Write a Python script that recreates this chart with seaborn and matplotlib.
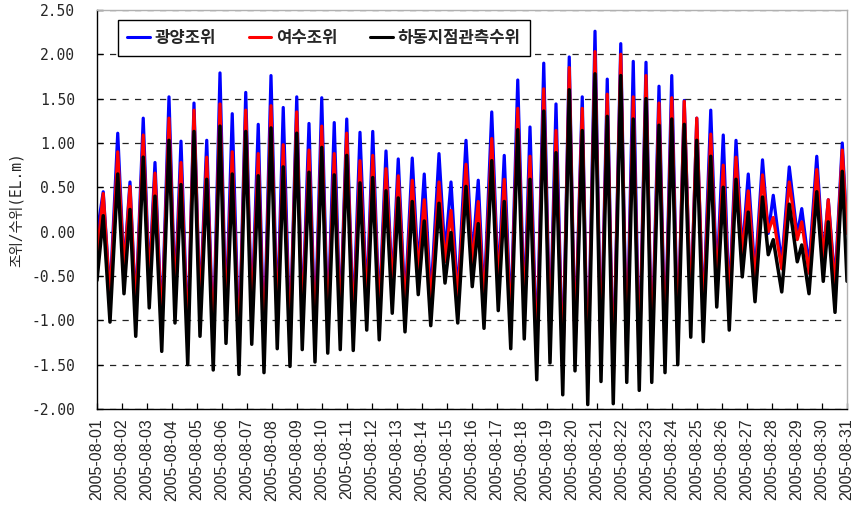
import matplotlib
matplotlib.use("Agg")
import matplotlib.pyplot as plt
from matplotlib.lines import Line2D
import numpy as np
import pandas as pd
import seaborn as sns

# ---- data: times (days from 2005-08-01) of the tidal extremes ----
days = [0.00, 0.25, 0.52, 0.83, 1.08, 1.32, 1.55, 1.85, 2.09, 2.32, 2.59, 2.88, 3.12, 3.36, 3.63,
        3.88, 4.12, 4.39, 4.65, 4.92, 5.16, 5.41, 5.68, 5.95, 6.19, 6.45, 6.68, 6.96, 7.21, 7.45,
        7.72, 7.99, 8.21, 8.48, 8.72, 8.99, 9.23, 9.49, 9.73, 9.99, 10.25, 10.52, 10.79, 11.03, 11.29,
        11.56, 11.81, 12.05, 12.32, 12.61, 12.85, 13.09, 13.35, 13.68, 13.92, 14.16, 14.43, 14.76, 15.01, 15.25,
        15.48, 15.79, 16.05, 16.29, 16.55, 16.83, 17.09, 17.32, 17.59, 17.87, 18.12, 18.36, 18.63, 18.89, 19.12,
        19.41, 19.63, 19.92, 20.16, 20.41, 20.65, 20.95, 21.19, 21.45, 21.69, 21.96, 22.19, 22.48, 22.72, 22.99,
        23.23, 23.49, 23.75, 23.99, 24.25, 24.55, 24.79, 25.05, 25.29, 25.56, 25.81, 26.05, 26.32, 26.62, 26.85,
        27.05, 27.39, 27.69, 28.01, 28.19, 28.48, 28.79, 29.05, 29.25, 29.52, 29.81, 30.00]

gwangyang = [-0.02, 0.45, -0.72, 1.11, -0.42, 0.56, -0.88, 1.28, -0.56, 0.78, -1.05, 1.52, -0.73, 1.02, -1.20,
             1.45, -0.88, 1.03, -1.26, 1.79, -0.98, 1.33, -1.31, 1.57, -0.97, 1.21, -1.29, 1.76, -1.02, 1.40,
             -1.22, 1.52, -1.03, 1.22, -1.17, 1.51, -1.07, 1.23, -1.03, 1.27, -1.04, 1.12, -0.81, 1.13, -0.92,
             0.91, -0.62, 0.82, -0.83, 0.83, -0.43, 0.65, -0.76, 0.88, -0.26, 0.56, -0.73, 1.03, -0.32, 0.58,
             -0.79, 1.35, -0.59, 0.86, -1.02, 1.71, -0.91, 1.18, -1.37, 1.90, -1.18, 1.44, -1.54, 1.97, -1.27,
             1.52, -1.65, 2.26, -1.39, 1.72, -1.64, 2.12, -1.40, 1.92, -1.49, 1.91, -1.40, 1.64, -1.29, 1.76,
             -1.20, 1.48, -0.89, 1.28, -0.94, 1.37, -0.57, 1.09, -0.81, 1.03, -0.24, 0.65, -0.50, 0.81, -0.02,
             0.41, -0.36, 0.73, -0.04, 0.26, -0.39, 0.85, -0.28, 0.36, -0.58, 1.00, 0.02]

yeosu = [-0.28, 0.43, -0.77, 0.90, -0.45, 0.51, -0.93, 1.09, -0.61, 0.66, -1.10, 1.28, -0.78, 0.78, -1.25,
         1.37, -0.93, 0.84, -1.31, 1.44, -1.01, 0.90, -1.36, 1.37, -1.02, 0.88, -1.34, 1.42, -1.07, 0.98,
         -1.27, 1.35, -1.08, 0.92, -1.22, 1.19, -1.12, 0.88, -1.08, 1.11, -1.09, 0.80, -0.86, 0.86, -0.97,
         0.71, -0.67, 0.63, -0.88, 0.58, -0.48, 0.36, -0.81, 0.56, -0.34, 0.24, -0.78, 0.76, -0.38, 0.34,
         -0.84, 1.05, -0.64, 0.59, -1.07, 1.39, -0.96, 0.85, -1.42, 1.61, -1.23, 1.14, -1.59, 1.85, -1.32,
         1.39, -1.70, 2.03, -1.44, 1.55, -1.69, 2.00, -1.45, 1.52, -1.54, 1.76, -1.45, 1.45, -1.34, 1.51,
         -1.25, 1.47, -0.94, 1.28, -0.99, 1.10, -0.62, 0.75, -0.86, 0.84, -0.28, 0.46, -0.55, 0.64, 0.00,
         0.16, -0.42, 0.56, -0.09, 0.11, -0.47, 0.70, -0.32, 0.36, -0.66, 0.92, -0.02]

hadong = [-0.55, 0.18, -1.02, 0.65, -0.70, 0.25, -1.18, 0.84, -0.86, 0.40, -1.35, 1.03, -1.03, 0.53, -1.50,
          1.13, -1.18, 0.59, -1.56, 1.19, -1.26, 0.65, -1.61, 1.13, -1.27, 0.63, -1.59, 1.17, -1.32, 0.73,
          -1.52, 1.11, -1.33, 0.67, -1.47, 0.95, -1.37, 0.64, -1.33, 0.86, -1.34, 0.55, -1.11, 0.61, -1.22,
          0.46, -0.92, 0.38, -1.13, 0.34, -0.71, 0.12, -1.06, 0.32, -0.58, -0.01, -1.03, 0.51, -0.62, 0.09,
          -1.09, 0.80, -0.89, 0.34, -1.32, 1.15, -1.21, 0.59, -1.67, 1.36, -1.48, 0.89, -1.84, 1.60, -1.57,
          1.14, -1.95, 1.78, -1.69, 1.30, -1.94, 1.76, -1.70, 1.27, -1.79, 1.50, -1.70, 1.20, -1.59, 1.27,
          -1.50, 1.21, -1.19, 1.03, -1.24, 0.85, -0.85, 0.50, -1.11, 0.59, -0.51, 0.22, -0.79, 0.39, -0.26,
          -0.09, -0.68, 0.31, -0.34, -0.15, -0.70, 0.45, -0.56, 0.11, -0.91, 0.68, -0.56]

series_names = ["광양조위", "여수조위", "하동지점관측수위"]
series_colors = ["#0000ff", "#ff0000", "#000000"]
date_labels = ["2005-08-%02d" % d for d in range(1, 32)]
ytick_values = [-2.0, -1.5, -1.0, -0.5, 0.0, 0.5, 1.0, 1.5, 2.0, 2.5]

# ---- styling ----
sns.set_style("white")
plt.rcParams["font.family"] = ["Noto Sans CJK KR", "DejaVu Sans"]
plt.rcParams["axes.unicode_minus"] = False

fig = plt.figure(figsize=(8.56, 5.09), dpi=100)
ax = fig.add_axes([0.1133, 0.1965, 0.8762, 0.7839])

df = pd.DataFrame({
    "day": days * 3,
    "value": gwangyang + yeosu + hadong,
    "series": [series_names[0]] * len(days) + [series_names[1]] * len(days) + [series_names[2]] * len(days),
})

widths = [2.3, 2.3, 2.5]
for name, col, lw in zip(series_names, series_colors, widths):
    sub = df[df["series"] == name]
    sns.lineplot(data=sub, x="day", y="value", color=col, linewidth=lw, ax=ax,
                 estimator=None, sort=False, legend=False)
for ln in ax.lines:
    ln.set_solid_joinstyle("round")

ax.set_xlim(0, 30)
ax.set_ylim(-2.0, 2.5)
ax.set_xticks(range(len(date_labels)))
ax.set_xticklabels(date_labels, rotation=90, family=["Liberation Sans"], fontsize=11.5)
ax.set_yticks(ytick_values)
ax.set_yticklabels(["%.2f" % v for v in ytick_values], family=["DejaVu Sans Mono"], fontsize=10.5)
ax.set_xlabel("")
ax.set_ylabel("조위/수위(EL.m)", family=["DejaVu Sans Mono", "Noto Sans CJK KR"], fontsize=10.5)
ax.yaxis.set_label_coords(-0.097, 0.5)

ax.yaxis.grid(True, linestyle=(0, (5, 5)), color="#222222", linewidth=0.9)
ax.xaxis.grid(False)
ax.set_axisbelow(True)
ax.tick_params(axis="both", direction="in", length=4, width=0.9, color="black",
               bottom=True, left=True)
ax.tick_params(axis="y", pad=16)
ax.tick_params(axis="x", pad=7)
for side in ["left", "bottom"]:
    ax.spines[side].set_color("black")
    ax.spines[side].set_linewidth(1.0)
for side in ["top", "right"]:
    ax.spines[side].set_color("#b0b0b0")
    ax.spines[side].set_linewidth(1.0)

handles = [Line2D([0], [0], color=c, lw=2.2) for c in series_colors]
leg = ax.legend(handles, series_names, loc="upper left", bbox_to_anchor=(0.028, 0.975),
                ncol=3, frameon=True, fancybox=False, framealpha=1, edgecolor="black",
                handlelength=1.35, columnspacing=1.95, handletextpad=0.3,
                prop={"family": ["Noto Sans CJK KR"], "size": 12, "weight": "bold"},
                borderpad=0.55, borderaxespad=0)
leg.get_frame().set_linewidth(1.0)

fig.savefig("out.png", dpi=100)
